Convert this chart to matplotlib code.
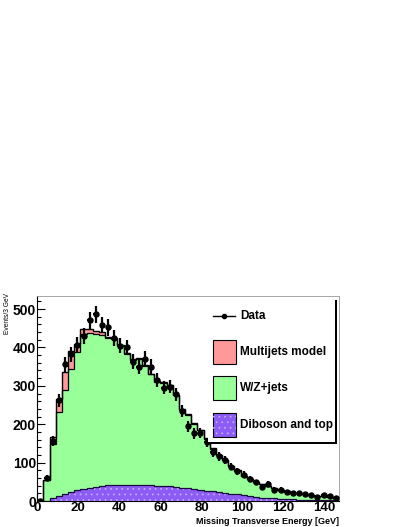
import matplotlib
matplotlib.use("Agg")
import matplotlib.pyplot as plt
import numpy as np

# bins of 3 GeV from 0 to 147
edges = np.arange(0, 150, 3)
centers = edges[:-1] + 1.5

data = [0, 61, 157, 262, 356, 382, 407, 430, 471, 486,
        458, 452, 424, 405, 400, 363, 350, 371, 350, 315,
        295, 298, 278, 235, 195, 176, 178, 153, 127, 116,
        106, 89, 77, 69, 58, 49, 37, 45, 30, 30,
        24, 22, 20, 19, 16, 10, 15, 13, 8]

total = [0, 55, 168, 267, 337, 390, 409, 447, 447, 443,
         439, 428, 424, 406, 385, 369, 372, 354, 332, 312,
         309, 302, 276, 239, 226, 202, 185, 163, 137, 120,
         107, 92, 80, 64, 58, 50, 44, 38, 33, 29,
         25, 22, 20, 17, 15, 13, 12, 10, 9]

multijet = [0, 0, 20, 36, 48, 45, 20, 11, 10, 9,
            7, 3, 3, 2, 2, 1, 1, 1, 1, 1,
            1, 1, 1, 1, 1, 1, 1, 1, 1, 1,
            1, 1, 1, 0, 0, 0, 0, 0, 0, 0,
            0, 0, 0, 0, 0, 0, 0, 0, 0]

diboson = [0, 1, 7, 13, 18, 24, 29, 32, 35, 37,
           40, 42, 43, 43, 43, 43, 42, 42, 41, 40,
           39, 38, 36, 35, 33, 31, 29, 27, 25, 23,
           21, 19, 17, 15, 13, 11, 9, 8, 7, 6,
           5, 4, 3.5, 3, 2.5, 2, 2, 1.5, 1]

total = np.array(total, dtype=float)
multijet = np.array(multijet, dtype=float)
diboson = np.array(diboson, dtype=float)
wz_top = total - multijet
data = np.array(data, dtype=float)

red = '#ff9999'
green = '#99ff99'
purple = '#8c5cf5'
dots = '#c4b2ff'

plt.rcParams['font.family'] = ['Liberation Sans', 'DejaVu Sans']
plt.rcParams['hatch.linewidth'] = 0.5

fig = plt.figure(figsize=(4.07, 5.27), dpi=100)
ax = fig.add_axes([0.0917, 0.0493, 0.7413, 0.389])

ax.stairs(total, edges, fill=True, color=red, zorder=1)
ax.stairs(total, edges, color='black', lw=1.0, zorder=4)
ax.stairs(wz_top, edges, fill=True, color=green, zorder=2)
ax.stairs(wz_top, edges, color='black', lw=0.9, zorder=4)
ax.stairs(diboson, edges, fill=True, facecolor=purple, edgecolor=dots,
          hatch='...', lw=0, zorder=3)
ax.stairs(diboson, edges, color='#1a0a40', lw=0.9, zorder=4)

ax.errorbar(centers, data, yerr=np.sqrt(data), xerr=1.2, fmt='o', ms=3.6,
            color='black', elinewidth=1.6, capsize=0, zorder=5)

ax.set_xlim(0, 147)
ax.set_ylim(0, 534)
ax.set_xticks(np.arange(0, 141, 20))
ax.set_xticks(np.arange(0, 147, 4), minor=True)
ax.set_yticks(np.arange(0, 501, 100))
ax.set_yticks(np.arange(0, 534, 20), minor=True)
ax.tick_params(which='both', direction='in', top=False, right=False,
               labelsize=10, pad=1)
ax.tick_params(which='major', length=5.8, width=0.8)
ax.tick_params(which='minor', length=2.9, width=0.8)
ax.tick_params(axis='x', labelsize=9.5, pad=1)
for lab in ax.get_xticklabels() + ax.get_yticklabels():
    lab.set_fontweight('bold')
for s in ['top', 'right']:
    ax.spines[s].set_color('#999999')
    ax.spines[s].set_linewidth(0.6)

fig.text(0.833, 1 - 526 / 527, 'Missing Transverse Energy [GeV]', ha='right',
         va='bottom', fontsize=6.5, fontweight='bold')
fig.text(8 / 407, 1 - 293 / 527, 'Events/3 GeV', rotation=90, ha='center',
         va='top', fontsize=4.8)

# legend box with shadow, drawn in figure pixels
W, H = 407, 527
def fx(px):
    return px / W
def fy(py):
    return 1 - py / H

shadow = plt.Rectangle((fx(211), fy(444)), fx(337) - fx(211), fy(300) - fy(444),
                       transform=fig.transFigure, facecolor='black',
                       edgecolor='none', zorder=10)
box = plt.Rectangle((fx(208), fy(441.5)), fx(335) - fx(208), fy(297) - fy(441.5),
                    transform=fig.transFigure, facecolor='white',
                    edgecolor='none', zorder=11)
fig.add_artist(shadow)
fig.add_artist(box)

labels = ['Data', 'Multijets model', 'W/Z+jets', 'Diboson and top']
fig.add_artist(plt.Line2D([fx(213), fx(235)], [fy(316), fy(316)],
                          transform=fig.transFigure, color='black', lw=1.0, zorder=12))
fig.add_artist(plt.Line2D([fx(224)], [fy(316)], transform=fig.transFigure,
                          marker='o', ms=3, color='black', zorder=12))
ys = [351.5, 388, 425]
cols = [red, green, purple]
for yc, c in zip(ys, cols):
    r = plt.Rectangle((fx(213), fy(yc + 12)), fx(236) - fx(213), fy(yc - 12) - fy(yc + 12),
                      transform=fig.transFigure, facecolor=c,
                      edgecolor='black', lw=0.8, zorder=12)
    fig.add_artist(r)
    if c == purple:
        rh = plt.Rectangle((fx(213), fy(yc + 12)), fx(236) - fx(213),
                           fy(yc - 12) - fy(yc + 12), transform=fig.transFigure,
                           facecolor='none', edgecolor=dots, hatch='...',
                           lw=0, zorder=12.5)
        fig.add_artist(rh)
for yc, lab in zip([316] + ys, labels):
    fig.text(fx(240), fy(yc), lab, ha='left', va='center', fontsize=8.5,
             fontweight='bold', zorder=13)

fig.savefig('out.png', dpi=100)
